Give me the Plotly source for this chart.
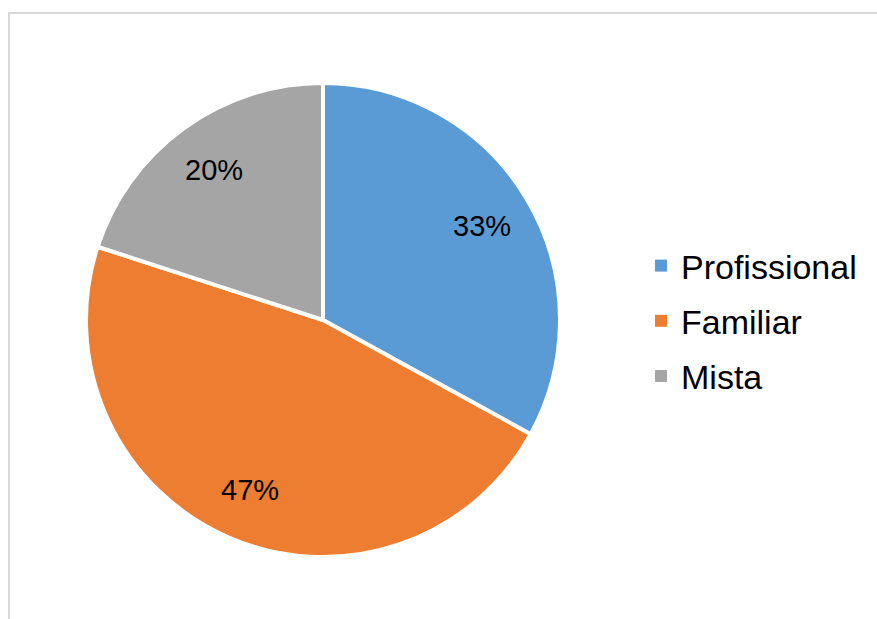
import math
import plotly.graph_objects as go

# Distribution of company management type
categories = ["Profissional", "Familiar", "Mista"]
shares = [33, 47, 20]
colors = ["#5B9BD5", "#ED7D31", "#A5A5A5"]

W, H = 877, 619
cx, cy, r = 323, 320, 237  # pie centre and radius in pixels
FONT = "Liberation Sans, Arial, sans-serif"

fig = go.Figure(
    go.Pie(
        labels=categories,
        values=shares,
        sort=False,
        direction="clockwise",
        rotation=0,
        marker=dict(colors=colors, line=dict(color="white", width=4)),
        textinfo="none",
        domain=dict(x=[(cx - r) / W, (cx + r) / W], y=[1 - (cy + r) / H, 1 - (cy - r) / H]),
        hoverinfo="label+percent",
        showlegend=False,
    )
)

# Legend entries as square markers, one group each so the gap can be set
for name, col in zip(categories, colors):
    fig.add_trace(
        go.Scatter(
            x=[None],
            y=[None],
            mode="markers",
            name=name,
            legendgroup=name,
            marker=dict(symbol="square", size=12, color=col),
            hoverinfo="skip",
        )
    )

# Percentage labels placed along each slice's mid-angle
total = sum(shares)
annotations = []
start = 0.0
for v in shares:
    mid = (start + v / 2) / total * 2 * math.pi
    start += v
    px = cx + 0.78 * r * math.sin(mid)
    py = cy - 0.78 * r * math.cos(mid)
    annotations.append(
        dict(
            x=px / W,
            y=1 - py / H,
            xref="paper",
            yref="paper",
            text=f"{round(v / total * 100)}%",
            showarrow=False,
            font=dict(family=FONT, size=29, color="black"),
            xanchor="center",
            yanchor="middle",
        )
    )

fig.update_layout(
    width=W,
    height=H,
    margin=dict(l=0, r=0, t=0, b=0),
    paper_bgcolor="white",
    plot_bgcolor="white",
    font=dict(family=FONT, color="black"),
    xaxis=dict(visible=False),
    yaxis=dict(visible=False),
    annotations=annotations,
    legend=dict(
        x=641 / W,
        y=1 - 321 / H,
        xanchor="left",
        yanchor="middle",
        font=dict(size=34, color="black"),
        bgcolor="rgba(0,0,0,0)",
        tracegroupgap=8,
    ),
    shapes=[
        dict(
            type="rect",
            xref="paper",
            yref="paper",
            x0=9 / W,
            x1=1.05,
            y0=-0.05,
            y1=1 - 13 / H,
            line=dict(color="#D9D9D9", width=2),
            fillcolor="rgba(0,0,0,0)",
            layer="below",
        )
    ],
)

fig.write_html("out.html")
